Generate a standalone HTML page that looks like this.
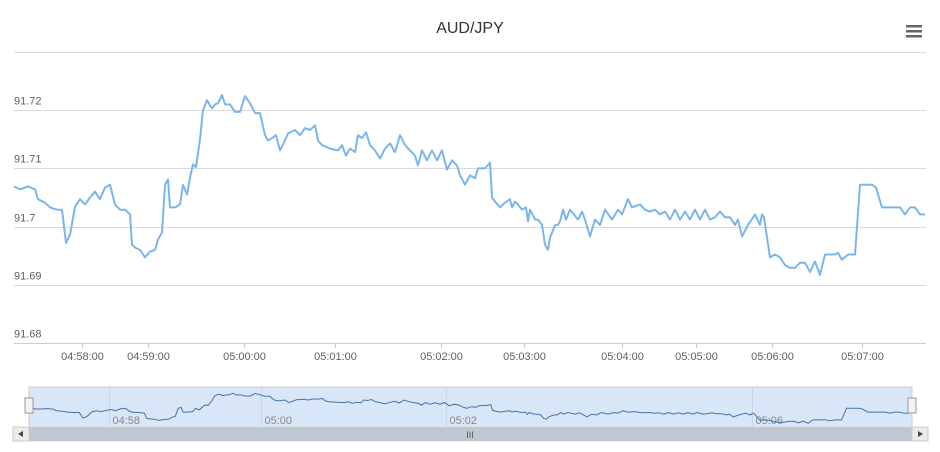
<!DOCTYPE html>
<html><head><meta charset="utf-8"><style>
html,body{margin:0;padding:0;background:#fff;}
svg text{font-family:"Liberation Sans",sans-serif;}
</style></head><body>
<svg id="chart" width="940" height="447" viewBox="0 0 940 447" xmlns="http://www.w3.org/2000/svg">
<text x="470" y="33" text-anchor="middle" font-size="16" fill="#333">AUD/JPY</text>
<g>
<rect x="906" y="25" width="16" height="2.5" fill="#666"/><rect x="906" y="30" width="16" height="2.5" fill="#666"/><rect x="906" y="35" width="16" height="2.5" fill="#666"/>
</g>
<g id="grid"></g>
<g id="yticks"></g>
<g id="xticks"></g>
<path id="line" fill="none" stroke="#7cb5ec" stroke-width="2" stroke-linejoin="round"/>
<g>
<rect x="29" y="387" width="883" height="40" fill="#d9e6f8" stroke="#ccc" stroke-width="1"/>
<g id="navgrid"></g>
<path id="navline" fill="none" stroke="#4572a7" stroke-width="1"/>
<rect x="25" y="398" width="8" height="15" fill="#f2f2f2" stroke="#999"/>
<rect x="908" y="398" width="8" height="15" fill="#f2f2f2" stroke="#999"/>
</g>
<g>
<rect x="13" y="427" width="915" height="14" fill="#eee" stroke="#ddd"/>
<rect x="29" y="427" width="883" height="14" fill="#bfc8d1"/>
<text x="470" y="438" text-anchor="middle" font-size="9" fill="#555">III</text>
<rect x="13" y="427" width="16" height="14" fill="#ebebeb" stroke="#ccc"/>
<path d="M23,431 L18,434 L23,437Z" fill="#444"/>
<rect x="912" y="427" width="16" height="14" fill="#ebebeb" stroke="#ccc"/>
<path d="M918,431 L923,434 L918,437Z" fill="#444"/>
</g>
</svg>
<script>
const times=[0,6,14,21,24,31,36,43,48,52,56,61,66,71,76,81,86,91,96,101,106,111,116,118,121,126,131,136,141,144,148,151,154,156,161,166,169,173,176,179,182,186,189,193,198,201,204,208,211,216,221,226,231,236,241,246,251,254,258,262,266,271,274,281,286,291,296,301,304,308,316,324,328,332,336,341,344,348,352,356,361,366,371,376,381,386,391,396,401,404,408,413,418,423,428,433,438,443,446,451,456,461,464,471,476,478,481,486,491,496,498,501,504,508,512,514,516,521,524,528,531,534,536,541,544,546,549,552,556,564,568,571,576,581,586,591,598,604,608,614,618,626,631,636,641,646,651,656,661,666,671,676,681,686,691,696,701,706,711,716,721,724,728,734,741,746,748,750,756,761,766,771,776,781,786,791,796,801,806,811,816,821,824,828,834,838,841,846,854,858,862,868,881,886,891,896,901,906,911];
const values=[91.7069,91.7064,91.7069,91.7064,91.7047,91.7041,91.7033,91.7029,91.7029,91.6972,91.6986,91.7034,91.7047,91.7038,91.7050,91.7060,91.7047,91.7067,91.7072,91.7038,91.7029,91.7029,91.7021,91.6969,91.6964,91.6960,91.6947,91.6957,91.6960,91.6978,91.6990,91.7072,91.7081,91.7033,91.7033,91.7038,91.7072,91.7055,91.7084,91.7107,91.7102,91.7150,91.7200,91.7217,91.7203,91.7210,91.7212,91.7226,91.7210,91.7210,91.7197,91.7197,91.7224,91.7212,91.7195,91.7195,91.7157,91.7148,91.7152,91.7157,91.7131,91.7148,91.7160,91.7166,91.7157,91.7169,91.7166,91.7174,91.7148,91.7140,91.7134,91.7131,91.7140,91.7122,91.7134,91.7128,91.7157,91.7152,91.7162,91.7140,91.7131,91.7117,91.7134,91.7143,91.7128,91.7157,91.7140,91.7131,91.7122,91.7105,91.7131,91.7114,91.7131,91.7114,91.7131,91.7098,91.7114,91.7105,91.7088,91.7072,91.7088,91.7083,91.7100,91.7100,91.7110,91.7050,91.7043,91.7033,91.7041,91.7047,91.7033,91.7043,91.7038,91.7029,91.7033,91.7009,91.7029,91.7012,91.7012,91.7003,91.6969,91.6960,91.6981,91.7002,91.7003,91.7009,91.7029,91.7012,91.7029,91.7012,91.7026,91.7012,91.6983,91.7012,91.7003,91.7029,91.7012,91.7029,91.7021,91.7047,91.7033,91.7038,91.7029,91.7026,91.7029,91.7021,91.7026,91.7012,91.7029,91.7012,91.7026,91.7012,91.7029,91.7012,91.7029,91.7012,91.7016,91.7026,91.7016,91.7016,91.7003,91.7012,91.6983,91.7003,91.7021,91.7003,91.7021,91.7016,91.6947,91.6952,91.6947,91.6934,91.6929,91.6929,91.6938,91.6938,91.6922,91.6940,91.6917,91.6952,91.6952,91.6952,91.6955,91.6943,91.6952,91.6952,91.6952,91.7072,91.7072,91.7072,91.7067,91.7033,91.7033,91.7033,91.7021,91.7033,91.7033,91.7021,91.7021,91.7024];
const yTicks=[91.68,91.69,91.7,91.71,91.72,91.73];
const yTickLabels=["91.68","91.69","91.7","91.71","91.72",""];
const xTickTimes=[68,134,230,321,427,510,608,682,758,848];
const xTickLabels=["04:58:00","04:59:00","05:00:00","05:01:00","05:02:00","05:03:00","05:04:00","05:05:00","05:06:00","05:07:00"];
const navTickTimes=[79,237,429,748];
const navTickLabels=["04:58","05:00","05:02","05:06"];

const NS="http://www.w3.org/2000/svg";
const X0=14,X1=926,T0=0,T1=912;
const xs=t=>X0+(t-T0)/(T1-T0)*(X1-X0);
const ys=v=>343-(v-91.68)/0.05*291;
const NX0=33,NX1=910;
const nxs=t=>NX0+(t-T0)/(T1-T0)*(NX1-NX0);
const nys=v=>425-(v-91.69)/0.035*34;
function mk(tag,attrs,parent){const e=document.createElementNS(NS,tag);for(const k in attrs)e.setAttribute(k,attrs[k]);parent.appendChild(e);return e;}
const grid=document.getElementById('grid'),yt=document.getElementById('yticks'),xt=document.getElementById('xticks');
yTicks.forEach((v,i)=>{
  const y=Math.round(ys(v))+0.5;
  const l=mk('line',{x1:14,x2:926,y1:y,y2:y,stroke:i===0?'#c0d0e0':'#d8d8d8','stroke-width':1},grid);
  
  
  if(yTickLabels[i]){const t=mk('text',{x:14,y:y-6,'font-size':11,fill:'#606060'},yt);t.textContent=yTickLabels[i];
  
  }
});
xTickTimes.forEach((tm,i)=>{
  const x=Math.round(xs(tm))+0.5;
  const l=mk('line',{x1:x,x2:x,y1:343,y2:348,stroke:'#c0d0e0'},xt);
  
  
  const t=mk('text',{x:x,y:360,'font-size':11,fill:'#606060','text-anchor':'middle'},xt);t.textContent=xTickLabels[i];
  
  
});
const ng=document.getElementById('navgrid');
navTickTimes.forEach((tm,i)=>{
  const x=Math.round(nxs(tm))+0.5;
  const l=mk('line',{x1:x,x2:x,y1:387,y2:427,stroke:'#c8d6ea'},ng);
  
  
  const t=mk('text',{x:x+3,y:424,'font-size':11,fill:'#888'},ng);t.textContent=navTickLabels[i];
  
  
});
let d='',nd='';
times.forEach((tm,i)=>{d+=(i?'L':'M')+xs(tm).toFixed(1)+','+ys(values[i]).toFixed(1);nd+=(i?'L':'M')+nxs(tm).toFixed(1)+','+nys(values[i]).toFixed(1);});
document.getElementById('line').setAttribute('d',d);
document.getElementById('navline').setAttribute('d',nd);
</script>
</body></html>
